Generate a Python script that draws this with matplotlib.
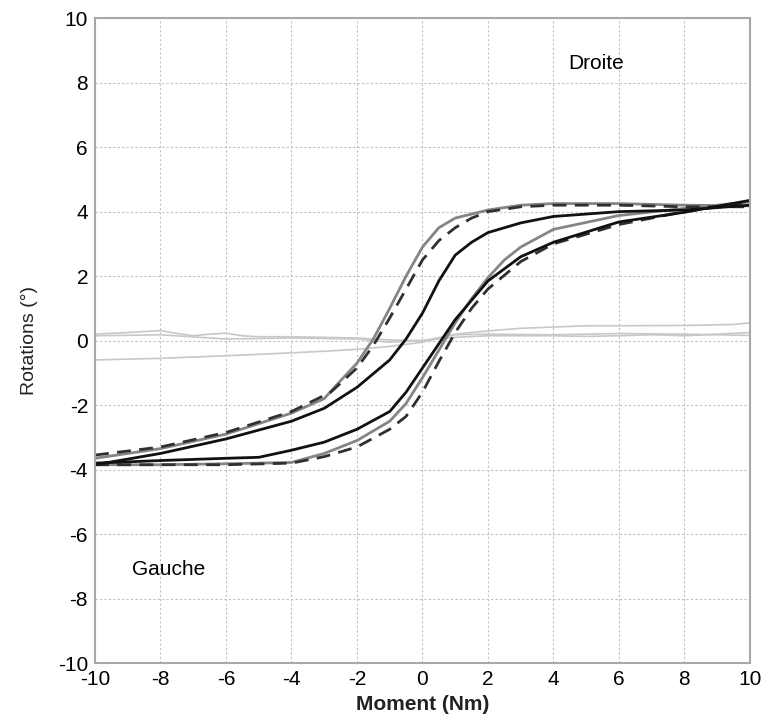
import matplotlib.pyplot as plt

plt.rcParams['font.family'] = ['Liberation Sans', 'DejaVu Sans']
plt.rcParams['axes.unicode_minus'] = False

# hysteresis loops: rising branch on the left (upper) and on the right (lower)
gray_up_x = [-10, -8, -6, -4, -3, -2.6, -2, -1.5, -1, -0.5, 0, 0.5, 1, 2, 3, 4, 6, 8, 10]
gray_up_y = [-3.65, -3.35, -2.9, -2.25, -1.8, -1.35, -0.7, 0.05, 1.0, 2.0, 2.9, 3.5, 3.8, 4.05, 4.2, 4.25, 4.25, 4.2, 4.18]
gray_lo_x = [-10, -8, -6, -4, -3, -2, -1, -0.5, 0, 0.5, 1, 1.5, 2, 2.5, 3, 4, 6, 8, 10]
gray_lo_y = [-3.85, -3.85, -3.82, -3.78, -3.5, -3.1, -2.5, -1.95, -1.15, -0.3, 0.55, 1.3, 1.95, 2.5, 2.9, 3.45, 3.88, 4.1, 4.3]

dash_up_x = [-10, -8, -6, -4, -2.8, -2, -1.5, -1, -0.5, 0, 0.5, 1, 1.5, 2, 3, 4, 6, 8, 10]
dash_up_y = [-3.55, -3.3, -2.85, -2.2, -1.6, -0.85, -0.15, 0.7, 1.6, 2.5, 3.1, 3.5, 3.8, 4.0, 4.15, 4.2, 4.2, 4.15, 4.15]
dash_lo_x = [-10, -8, -6, -4, -3, -2, -1, -0.5, 0, 0.5, 1, 1.5, 2, 3, 4, 6, 8, 10]
dash_lo_y = [-3.85, -3.85, -3.85, -3.8, -3.6, -3.3, -2.75, -2.35, -1.6, -0.65, 0.25, 1.0, 1.6, 2.45, 3.0, 3.6, 4.0, 4.3]

black_up_x = [-10, -8, -6, -4, -3, -2, -1, -0.5, 0, 0.5, 1, 1.5, 2, 3, 4, 6, 8, 10]
black_up_y = [-3.85, -3.5, -3.05, -2.5, -2.1, -1.45, -0.6, 0.05, 0.85, 1.85, 2.65, 3.05, 3.35, 3.65, 3.85, 4.0, 4.05, 4.2]
black_lo_x = [-10, -8, -6, -5, -4, -3, -2, -1, -0.5, 0, 0.5, 1, 1.5, 2, 3, 4, 6, 8, 10]
black_lo_y = [-3.8, -3.72, -3.65, -3.62, -3.4, -3.15, -2.75, -2.2, -1.6, -0.85, -0.1, 0.65, 1.25, 1.85, 2.6, 3.05, 3.68, 3.98, 4.35]

# thin light-gray traces near zero
thin_a_x = [-10, -9, -8, -7.5, -7, -6.5, -6, -5.5, -5, -4, -3, -2, -1, 0, 1, 2, 3, 4, 5, 6, 7, 8, 9, 10]
thin_a_y = [0.2, 0.25, 0.31, 0.22, 0.15, 0.2, 0.23, 0.15, 0.12, 0.12, 0.1, 0.08, 0.02, 0.0, 0.1, 0.15, 0.15, 0.15, 0.13, 0.15, 0.18, 0.15, 0.2, 0.25]
thin_b_x = [-10, -8, -6, -4, -2, -1, 0, 1, 2, 4, 6, 8, 10]
thin_b_y = [0.15, 0.18, 0.05, 0.08, 0.05, -0.05, 0.0, 0.18, 0.2, 0.18, 0.22, 0.2, 0.16]
thin_c_x = [-10, -8, -6, -4, -3, -2, -1, 0, 1, 2, 3, 4, 5, 6, 8, 9.5, 10]
thin_c_y = [-0.6, -0.55, -0.47, -0.38, -0.33, -0.27, -0.18, -0.05, 0.2, 0.3, 0.38, 0.42, 0.46, 0.46, 0.47, 0.5, 0.55]

fig = plt.figure(figsize=(7.66, 7.27), dpi=100)
ax = fig.add_axes([0.124, 0.088, 0.855, 0.887])

thin = dict(color='#c8c8c8', lw=1.2)
ax.plot(thin_a_x, thin_a_y, **thin)
ax.plot(thin_b_x, thin_b_y, **thin)
ax.plot(thin_c_x, thin_c_y, **thin)

ax.plot(gray_up_x, gray_up_y, color='#858585', lw=2)
ax.plot(gray_lo_x, gray_lo_y, color='#858585', lw=2)
ax.plot(dash_up_x, dash_up_y, color='#303030', lw=2, dashes=(5, 3))
ax.plot(dash_lo_x, dash_lo_y, color='#303030', lw=2, dashes=(5, 3))
ax.plot(black_up_x, black_up_y, color='#111111', lw=2)
ax.plot(black_lo_x, black_lo_y, color='#111111', lw=2)

ax.text(5.3, 8.6, 'Droite', fontsize=15, ha='center', va='center')
ax.text(-7.75, -7.1, 'Gauche', fontsize=15, ha='center', va='center')

ax.set_xlim(-10, 10)
ax.set_ylim(-10, 10)
ax.set_xticks(range(-10, 11, 2))
ax.set_yticks(range(-10, 11, 2))
ax.tick_params(length=0, labelsize=15, pad=5)
ax.grid(True, color='#c0c0c0', lw=0.8, linestyle=(0, (2, 2)))
for s in ax.spines.values():
    s.set_color('#a8a8a8')
    s.set_linewidth(1.5)

ax.set_xlabel('Moment (Nm)', fontsize=15, fontweight='bold', color='#222222', labelpad=4)
ax.set_ylabel('Rotations (°)', fontsize=14, color='#222222', labelpad=14)

fig.savefig('out.png', dpi=100)
